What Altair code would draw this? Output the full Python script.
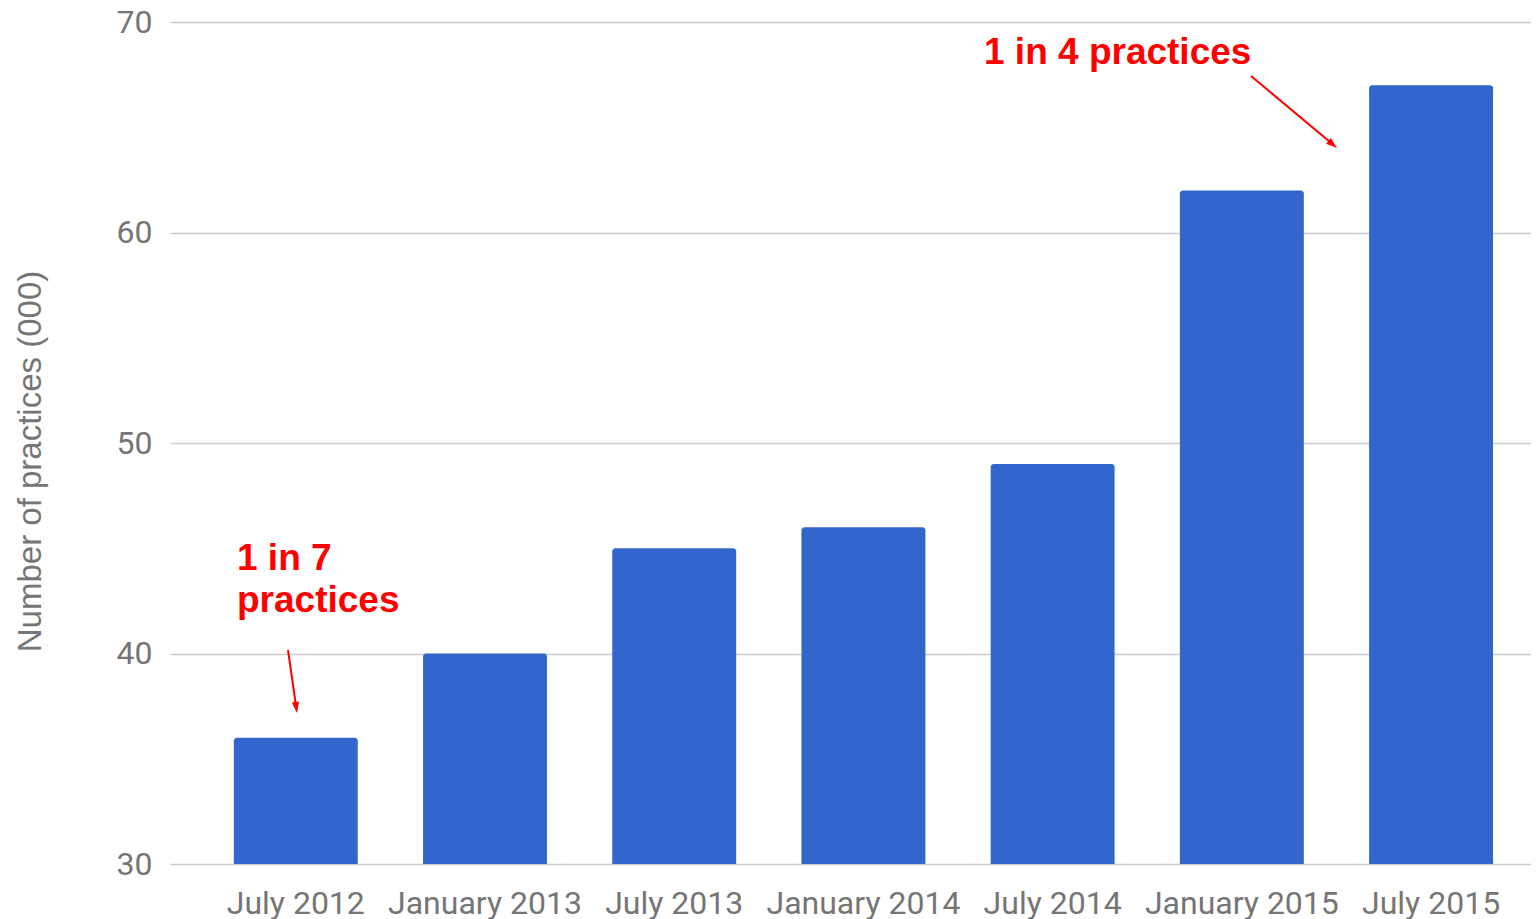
import altair as alt
import pandas as pd

categories = ["July 2012", "January 2013", "July 2013", "January 2014",
              "July 2014", "January 2015", "July 2015"]
practices = [36, 40, 45, 46, 49, 62, 67]
y_ticks = [30, 40, 50, 60, 70]
note_top = "1 in 4 practices"
note_low = ["1 in 7", "practices"]

df = pd.DataFrame({"period": categories, "practices": practices})

W, H = 1361, 842
GRAY = "#757575"
RED = "#FF0000"
ARROW = "M0,0L0.33,1L-0.33,1Z"

x_scale = alt.Scale(domain=categories, paddingInner=0.345, paddingOuter=0.269, align=0.627)
y_scale = alt.Scale(domain=[30, 70], nice=False, zero=False)

bars = alt.Chart(df).mark_bar(
    color="#3366CC", cornerRadiusTopLeft=3, cornerRadiusTopRight=3
).encode(
    x=alt.X("period:N", sort=categories, scale=x_scale,
            axis=alt.Axis(title=None, labelAngle=0, labelFont="Roboto", labelFontSize=32,
                          labelColor=GRAY, ticks=False, tickSize=0, domain=False,
                          labelPadding=24, labelOverlap=False, labelLimit=0, grid=False)),
    y=alt.Y("practices:Q", scale=y_scale,
            axis=alt.Axis(values=y_ticks, title="Number of practices (000)",
                          titleFont="Liberation Sans", titleFontSize=33, titleFontWeight="normal",
                          titleColor=GRAY, titleAngle=-90, titleX=-140, titleY=439,
                          titleAlign="center", titleBaseline="middle",
                          labelFont="Roboto", labelFontSize=32, labelColor=GRAY,
                          labelPadding=18, ticks=False, tickSize=0, domain=False,
                          grid=True, gridColor="#cccccc", gridWidth=1.6)),
    y2=alt.datum(30),
)

one = pd.DataFrame({"k": [0]})

text_top = alt.Chart(one).mark_text(
    font="Liberation Sans", fontSize=37, fontWeight="bold", color=RED,
    align="left", baseline="alphabetic"
).encode(x=alt.value(814), y=alt.value(42), text=alt.value(note_top))

text_low = alt.Chart(one).mark_text(
    font="Liberation Sans", fontSize=37, fontWeight="bold", color=RED,
    align="left", baseline="alphabetic", lineHeight=42
).encode(x=alt.value(67), y=alt.value(548), text=alt.value(note_low))

rule_top = alt.Chart(one).mark_rule(color=RED, strokeWidth=2).encode(
    x=alt.value(1081), y=alt.value(54), x2=alt.value(1160), y2=alt.value(120))
rule_low = alt.Chart(one).mark_rule(color=RED, strokeWidth=2).encode(
    x=alt.value(118), y=alt.value(628), x2=alt.value(126), y2=alt.value(684))

head_top = alt.Chart(one).mark_point(
    shape=ARROW, filled=True, size=500, angle=130, color=RED, opacity=1, strokeWidth=0
).encode(x=alt.value(1167), y=alt.value(126))
head_low = alt.Chart(one).mark_point(
    shape=ARROW, filled=True, size=500, angle=172, color=RED, opacity=1, strokeWidth=0
).encode(x=alt.value(127), y=alt.value(691))

chart = alt.layer(bars, text_top, text_low, rule_top, rule_low, head_top, head_low).properties(
    width=W, height=H,
    padding={"left": 162, "top": 14, "right": 0, "bottom": 55},
    autosize=alt.AutoSizeParams(type="none"),
).configure_view(stroke=None)

chart.save("out.html", embed_options={"renderer": "svg", "actions": False})
